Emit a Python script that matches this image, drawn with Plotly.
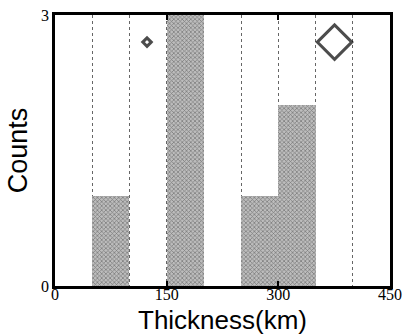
import plotly.graph_objects as go

bin_left = [50, 150, 250, 300]
bin_width = [50, 50, 50, 50]
counts = [1, 3, 1, 2]

marker_x = [123.6, 375.5]
marker_y = [2.70, 2.70]
marker_sizes = [6.5, 26.5]

x_ticks = [0, 150, 300, 450]
y_ticks = [0, 3]

fig = go.Figure()
fig.add_trace(go.Bar(
    x=[l + w / 2 for l, w in zip(bin_left, bin_width)],
    y=counts,
    width=bin_width,
    marker=dict(color="#a8a8a8", line=dict(width=0),
                pattern=dict(shape="x", size=3, solidity=0.4,
                             fgcolor="#303030", bgcolor="#bdbdbd")),
    showlegend=False,
))
fig.add_trace(go.Scatter(
    x=marker_x, y=marker_y, mode="markers",
    marker=dict(symbol="diamond-open", size=marker_sizes, color="black",
                line=dict(width=3, color="black")),
    showlegend=False, cliponaxis=False,
))

fig.update_layout(
    width=405, height=335,
    margin=dict(l=55, r=15, t=15, b=49),
    plot_bgcolor="white", paper_bgcolor="white",
    bargap=0,
    xaxis=dict(
        range=[0, 450], tickvals=x_ticks, ticktext=[str(v) for v in x_ticks],
        ticks="inside", ticklen=5, tickwidth=1.5, tickcolor="black",
        showline=True, linecolor="black", linewidth=2.5, mirror="ticks",
        showgrid=False, zeroline=False, automargin=False,
        ticklabelstandoff=-8,
        minor=dict(dtick=50, tick0=0, showgrid=True, gridcolor="#666",
                   griddash="dot", gridwidth=1, ticks=""),
        tickfont=dict(family="Liberation Serif", size=16, color="black"),
        layer="above traces",
    ),
    yaxis=dict(
        range=[0, 3], tickvals=y_ticks, ticktext=[str(v) for v in y_ticks],
        ticks="inside", ticklen=5, tickwidth=1.5, tickcolor="black",
        showline=True, linecolor="black", linewidth=2.5, mirror="ticks",
        showgrid=False, zeroline=False, automargin=False,
        tickfont=dict(family="Liberation Serif", size=16, color="black"),
        title=dict(text="Counts", standoff=6,
                   font=dict(family="Liberation Sans", size=27, color="black")),
        layer="above traces",
    ),
    annotations=[dict(
        text="Thickness(km)", xref="paper", yref="paper", x=0.5, y=0,
        xanchor="center", yanchor="bottom", yshift=-51, showarrow=False,
        font=dict(family="Liberation Sans", size=26, color="black"),
    )],
)

fig.write_html("out.html")
